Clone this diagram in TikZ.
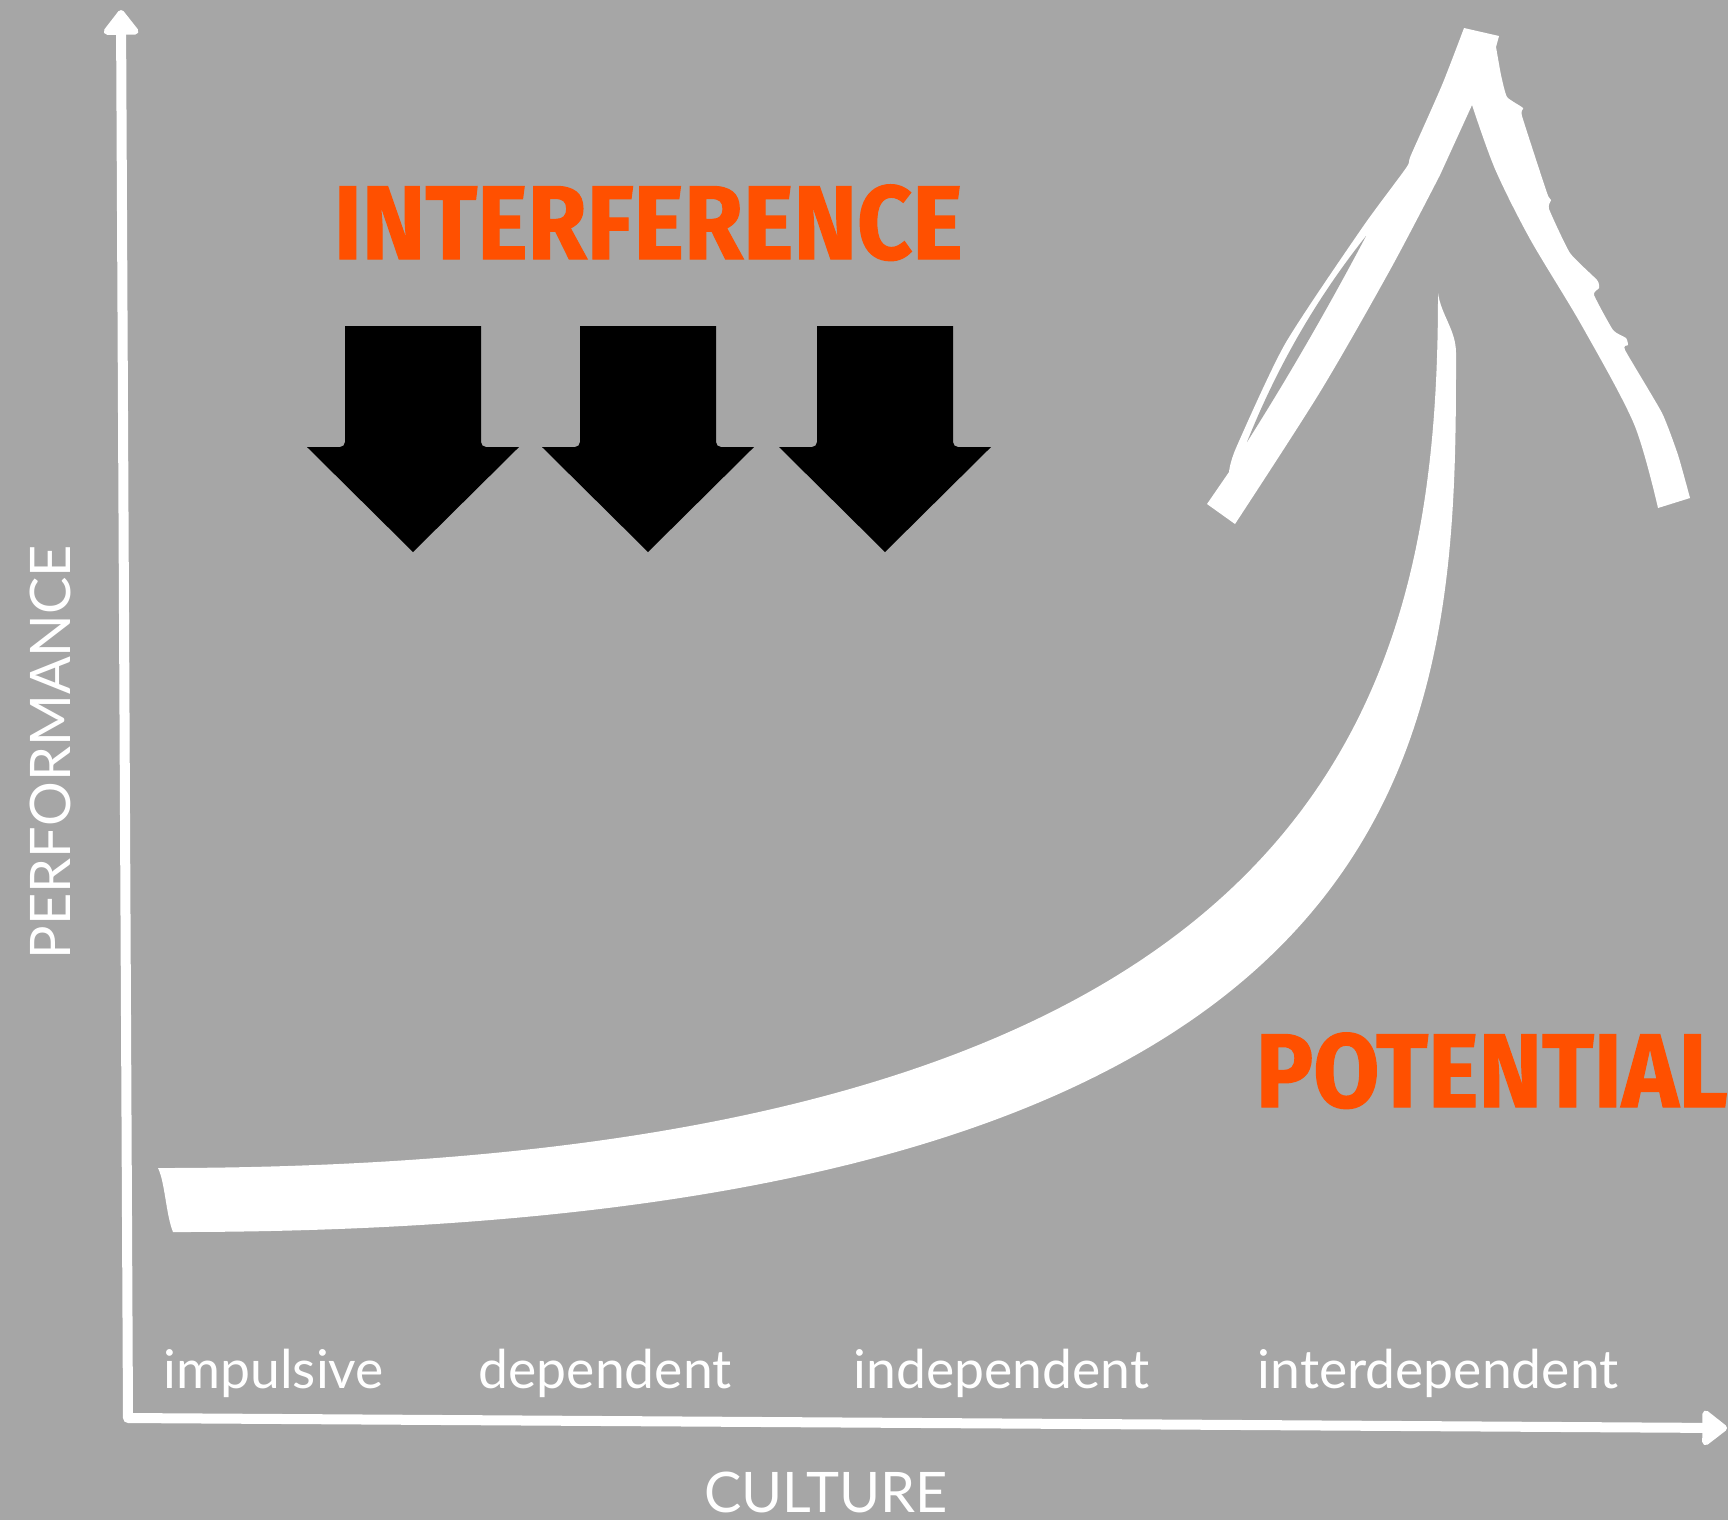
\documentclass[tikz,border=0pt]{standalone}
\usepackage{fontspec}
\setmainfont{Lato}
\newfontfamily\headfont{Fira Sans}[FakeStretch=0.915, BoldFeatures={FakeBold=1.2}]
\usetikzlibrary{arrows.meta}
\definecolor{bggray}{HTML}{A6A6A6}
\definecolor{hotorange}{HTML}{FF5000}

\begin{document}
\begin{tikzpicture}[x=0.01cm, y=-0.01cm, >={Triangle[length=0.27cm, width=0.4cm, round]},
    axislabel/.style={text=white, inner sep=0, font=\fontsize{15.9}{18}\selectfont},
    stagelabel/.style={text=white, inner sep=0, anchor=base west, font=\fontsize{15.2}{18}\selectfont},
    bigword/.style={text=hotorange, inner sep=0, anchor=base west, font=\headfont\bfseries\fontsize{29.8}{34}\selectfont}]
    \fill[bggray] (0,0) rectangle (1728,1520);
    \clip (0,0) rectangle (1728,1520);

    % axes
    \coordinate (ytip) at (121,10);
    \coordinate (origin) at (128,1418);
    \coordinate (xtip) at (1727,1428);
    \draw[<->, white, line width=0.1cm, line join=round] (ytip) -- (origin) -- (xtip);

    \node[axislabel, rotate=90, anchor=base] (perf) at (70,752) {PERFORMANCE};
    \node[axislabel, anchor=base] (cult) at (826,1512) {CULTURE};

    % the curve
    \fill[white] (158,1168) .. controls (1337,1168) and (1438,692) .. (1438,293)
      .. controls (1441,315) and (1456,330) .. (1456,353)
      .. controls (1456,728) and (1449,1232) .. (173,1232)
      .. controls (166,1215) and (165,1182) .. (158,1168) -- cycle;

    % rough arrow head
    \fill[white] (1207,504) -- plot[smooth, tension=0.4] coordinates {(1229,472) (1236,448) (1285,344) (1362,228) (1406,168) (1411,155) (1442,85) (1464,28)}
      -- (1499,36)
      -- plot[smooth, tension=0.3] coordinates {(1496,47) (1501,75) (1507,97) (1523,108) (1522,116) (1547,193) (1551,200) (1549,209) (1570,253) (1597,280) (1599,288) (1594,295) (1613,330) (1626,338) (1628,345) (1625,350) (1662,413) (1678,455) (1690,498)}
      -- plot[smooth, tension=0.5] coordinates {(1658,508) (1634,424) (1582,326) (1530,239) (1495,169) (1472,105)}
      -- plot[smooth, tension=0.5] coordinates {(1440,175) (1390,270) (1320,392) (1235,524)}
      -- cycle;
    \fill[bggray] (1247,442) .. controls (1277,367) and (1316,299) .. (1366,236)
      .. controls (1329,306) and (1290,374) .. (1247,442) -- cycle;

    % interference arrows
    \foreach \cx in {413,648,885}
      \fill[black] (\cx+68,326) -- (\cx-68,326) [rounded corners=0.05cm] -- (\cx-68,447) [sharp corners] -- (\cx-106,447) -- (\cx,552) -- (\cx+106,447) [rounded corners=0.05cm] -- (\cx+68,447) [sharp corners] -- cycle;

    \node[bigword] (interf) at (333,259) {INTERFERENCE};
    \node[bigword] (potential) at (1255,1107) {POTENTIAL};

    \node[stagelabel] (impulsive) at (163,1388) {impulsive};
    \node[stagelabel] (dependent) at (478,1388) {dependent};
    \node[stagelabel] (independent) at (853,1388) {independent};
    \node[stagelabel] (interdependent) at (1257,1388) {interdependent};
\end{tikzpicture}
\end{document}
